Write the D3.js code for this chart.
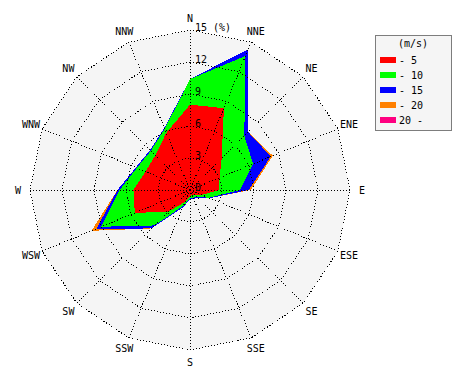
<!DOCTYPE html>
<html>
<head>
<meta charset="utf-8">
<script src="https://cdn.jsdelivr.net/npm/d3@7"></script>
<style>
  body { margin: 0; background: #fff; }
  text { font-family: "DejaVu Sans Mono", monospace; font-size: 10px; fill: #000; }
</style>
</head>
<body>
<div id="chart"></div>
<script>
// wind directions, clockwise from north
const directions = ["N", "NNE", "NE", "ENE", "E", "ESE", "SE", "SSE", "S", "SSW", "SW", "WSW", "W", "WNW", "NW", "NNW"];

// frequency (%) per speed class
const freq5      = [8.0, 8.3, 4.2, 3.0, 2.7, 1.2, 0.7, 0.5, 0.6, 1.2, 2.9, 5.6, 5.3, 4.5, 4.6, 5.8];
const freq10     = [2.4, 5.3, 3.0, 3.4, 2.0, 0.7, 0.2, 0.3, 0.2, 0.4, 1.8, 3.4, 1.3, 0.9, 0.6, 0.4];
const freq15     = [0.0, 0.7, 0.5, 1.8, 0.8, 0.1, 0.1, 0.1, 0.1, 0.2, 0.4, 0.5, 0.2, 0.1, 0.1, 0.1];
const freq20     = [0.0, 0.0, 0.0, 0.2, 0.2, 0.0, 0.0, 0.0, 0.0, 0.0, 0.0, 0.5, 0.0, 0.0, 0.0, 0.0];
const freq20plus = [0.0, 0.0, 0.0, 0.0, 0.0, 0.0, 0.0, 0.0, 0.0, 0.0, 0.0, 0.0, 0.0, 0.0, 0.0, 0.0];

const speedKeys = ["s5", "s10", "s15", "s20", "s20p"];
const speedLabels = ["- 5", "- 10", "- 15", "- 20", "20 -"];
const speedColors = ["#ff0000", "#00ff00", "#0000ff", "#ff8000", "#ff0080"];

const ticks = [0, 3, 6, 9, 12, 15];

const width = 470, height = 380;
const cx = 190, cy = 190;
const outer = 160;

const table = directions.map((d, i) => ({
    dir: d, s5: freq5[i], s10: freq10[i], s15: freq15[i], s20: freq20[i], s20p: freq20plus[i]
}));

const stacked = d3.stack().keys(speedKeys)(table);

const r = d3.scaleLinear().domain([0, 15]).range([0, outer]);
const angle = i => i * 2 * Math.PI / directions.length;

const svg = d3.select("#chart").append("svg")
    .attr("width", width)
    .attr("height", height);

const g = svg.append("g").attr("transform", `translate(${cx},${cy})`);

const ring = d3.lineRadial()
    .angle((d, i) => angle(i))
    .radius(d => d)
    .curve(d3.curveLinearClosed);

// background
g.append("path")
    .attr("d", ring(directions.map(() => r(15))))
    .attr("fill", "#f5f5f5");

// stacked areas, biggest first
const area = d3.lineRadial()
    .angle((d, i) => angle(i))
    .radius(d => r(d[1]))
    .curve(d3.curveLinearClosed);

g.selectAll("path.band")
    .data(stacked.slice().reverse())
    .enter()
    .append("path")
    .attr("class", "band")
    .attr("d", s => area(s))
    .attr("fill", s => speedColors[s.index])
    .attr("shape-rendering", "crispEdges");

// grid rings
g.selectAll("path.ring")
    .data(ticks.slice(1))
    .enter()
    .append("path")
    .attr("class", "ring")
    .attr("d", t => ring(directions.map(() => r(t))))
    .attr("fill", "none")
    .attr("stroke", "#000")
    .attr("stroke-dasharray", "1,2")
    .attr("shape-rendering", "crispEdges");

// spokes
g.selectAll("line.spoke")
    .data(directions)
    .enter()
    .append("line")
    .attr("class", "spoke")
    .attr("x1", 0).attr("y1", 0)
    .attr("x2", (d, i) => r(15) * Math.sin(angle(i)))
    .attr("y2", (d, i) => -r(15) * Math.cos(angle(i)))
    .attr("stroke", "#000")
    .attr("stroke-dasharray", "1,2")
    .attr("shape-rendering", "crispEdges");

// tick labels along north axis
g.selectAll("text.tick")
    .data(ticks)
    .enter()
    .append("text")
    .attr("class", "tick")
    .attr("x", 5)
    .attr("y", t => -r(t) + 1)
    .text(t => t === 15 ? "15 (%)" : t);

// direction labels
g.selectAll("text.dir")
    .data(directions)
    .enter()
    .append("text")
    .attr("class", "dir")
    .attr("x", (d, i) => 172 * Math.sin(angle(i)))
    .attr("y", (d, i) => -172 * Math.cos(angle(i)))
    .attr("dy", "0.35em")
    .attr("text-anchor", "middle")
    .text(d => d);

// legend
const legend = svg.append("g").attr("transform", "translate(375,35)");

legend.append("rect")
    .attr("x", 0.5).attr("y", 0.5)
    .attr("width", 76).attr("height", 95)
    .attr("fill", "#f5f5f5")
    .attr("stroke", "#000")
    .attr("stroke-dasharray", "1,1");

legend.append("text")
    .attr("x", 38).attr("y", 12)
    .attr("text-anchor", "middle")
    .text("(m/s)");

const items = legend.selectAll("g.item")
    .data(speedLabels)
    .enter()
    .append("g")
    .attr("class", "item")
    .attr("transform", (d, i) => `translate(0,${25 + i * 15})`);

items.append("rect")
    .attr("x", 5).attr("y", -3)
    .attr("width", 16).attr("height", 6)
    .attr("fill", (d, i) => speedColors[i]);

items.append("text")
    .attr("x", 24).attr("y", 4)
    .text(d => d);
</script>
</body>
</html>
